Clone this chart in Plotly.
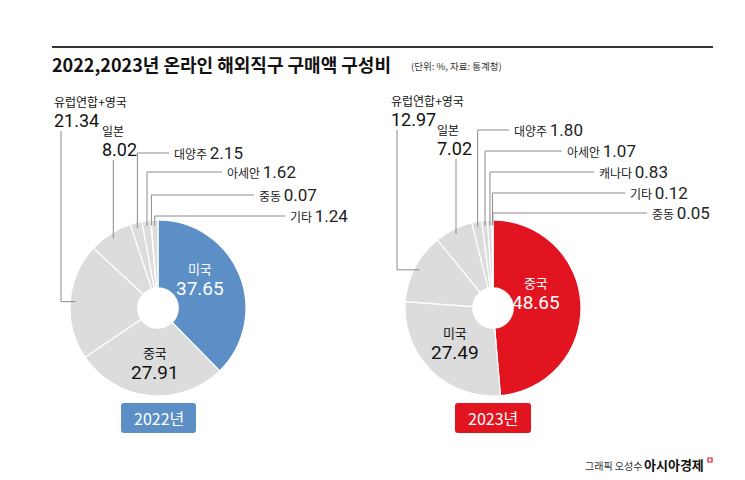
import math
import plotly.graph_objects as go

W, H = 745, 480

# ---------------- data ----------------
labels_2022 = ["미국", "중국", "유럽연합+영국", "일본", "대양주", "아세안", "중동", "기타"]
values_2022 = [37.65, 27.91, 21.34, 8.02, 2.15, 1.62, 0.07, 1.24]
labels_2023 = ["중국", "미국", "유럽연합+영국", "일본", "대양주", "아세안", "캐나다", "기타", "중동"]
values_2023 = [48.65, 27.49, 12.97, 7.02, 1.80, 1.07, 0.83, 0.12, 0.05]
year_labels = ["2022년", "2023년"]

# ---------------- styling / layout ----------------
BLUE = "#5b8fc6"
RED = "#e1141f"
GRAY = "#dcdcdc"
LINE = "#8a8a8a"
KFONT = "Noto Sans CJK KR"
NFONT = "Roboto"

pies = [
    dict(cx=150, cy=300, r=88, labels=labels_2022, values=values_2022, hl=BLUE,
         inside={"미국": (192, 271, "white"), "중국": (147, 355, "#111")},
         big={"유럽연합+영국": (44, 104, 53), "일본": (92, 133, None)},
         small={"대양주": (164, 145), "아세안": (217, 164), "중동": (249, 187), "기타": (280, 208)},
         badge=(113, 188), year=year_labels[0]),
    dict(cx=485, cy=300, r=88, labels=labels_2023, values=values_2023, hl=RED,
         inside={"중국": (528, 285, "white"), "미국": (447, 335, "#111")},
         big={"유럽연합+영국": (381, 103, 389), "일본": (427, 132, None)},
         small={"대양주": (504, 122), "아세안": (557, 143), "캐나다": (589, 164),
                "기타": (620, 185), "중동": (642, 205)},
         badge=(447, 523), year=year_labels[1]),
]


def px(x):
    return x / W


def py(y):
    return 1 - y / H


fig = go.Figure()
shapes = []
annotations = []


def line(pts):
    for (x0, y0), (x1, y1) in zip(pts[:-1], pts[1:]):
        shapes.append(dict(type="line", xref="paper", yref="paper",
                           x0=px(x0), y0=py(y0), x1=px(x1), y1=py(y1),
                           line=dict(color=LINE, width=1)))


def text(x, y, t, size, color="#222", anchor="left", align=None):
    annotations.append(dict(x=px(x), y=py(y), xref="paper", yref="paper", text=t,
                            showarrow=False, xanchor=anchor, yanchor="middle",
                            align=align or anchor,
                            font=dict(family=KFONT, size=size, color=color)))


def num(v, size):
    return f"<span style='font-family:{NFONT};font-size:{size}px'>{v:.2f}</span>"


def two_line(name, v, ns, vs):
    return f"<span style='font-size:{ns}px'>{name}</span><br>{num(v, vs)}"


for p in pies:
    cx, cy, r = p["cx"], p["cy"], p["r"]
    colors = [p["hl"]] + [GRAY] * (len(p["values"]) - 1)
    fig.add_trace(go.Pie(
        labels=p["labels"], values=p["values"], sort=False, direction="clockwise",
        rotation=0, hole=0.23, textinfo="none", hoverinfo="label+value",
        marker=dict(colors=colors, line=dict(color="white", width=1.2)),
        domain=dict(x=[px(cx - r), px(cx + r)], y=[py(cy + r), py(cy - r)]),
        showlegend=False))

    total = sum(p["values"])
    cum = 0
    anchors = {}
    for lab, v in zip(p["labels"], p["values"]):
        mid = (cum + v / 2) / total * 2 * math.pi
        cum += v
        anchors[lab] = (cx + 0.94 * r * math.sin(mid), cy - 0.94 * r * math.cos(mid))
    vals = dict(zip(p["labels"], p["values"]))

    for lab, (x, y, col) in p["inside"].items():
        text(x, y, two_line(lab, vals[lab], 13, 19), 16, col, "center")

    for lab, (x, y, vx) in p["big"].items():
        text(x, y, two_line(lab, vals[lab], 12, 18), 15, "#111", "left")
        ax, ay = anchors[lab]
        if vx is None:
            line([(ax, y + 19), (ax, ay)])
        else:
            line([(vx, y + 19), (vx, ay), (ax, ay)])

    for lab, (x, y) in p["small"].items():
        ax, ay = anchors[lab]
        line([(ax, ay), (ax, y), (x - 3, y)])
        text(x, y, f"{lab} {num(vals[lab], 17)}", 12, "#222")

    bx0, bx1 = p["badge"]
    shapes.append(dict(type="path", xref="paper", yref="paper",
                       path=(lambda x0, x1, y0, y1, rr: (
                           f"M {px(x0+rr)} {py(y0)} L {px(x1-rr)} {py(y0)} "
                           f"Q {px(x1)} {py(y0)} {px(x1)} {py(y0+rr)} L {px(x1)} {py(y1-rr)} "
                           f"Q {px(x1)} {py(y1)} {px(x1-rr)} {py(y1)} L {px(x0+rr)} {py(y1)} "
                           f"Q {px(x0)} {py(y1)} {px(x0)} {py(y1-rr)} L {px(x0)} {py(y0+rr)} "
                           f"Q {px(x0)} {py(y0)} {px(x0+rr)} {py(y0)} Z"))(bx0, bx1, 395, 425, 3),
                       fillcolor=p["hl"], line=dict(width=0)))
    text((bx0 + bx1) / 2, 410, p["year"], 16, "white", "center")

# title + rule
shapes.append(dict(type="line", xref="paper", yref="paper", x0=px(44), x1=px(705),
                   y0=py(39), y1=py(39), line=dict(color="#333", width=2)))
text(42, 56, "<b>2022,2023년 온라인 해외직구 구매액 구성비</b>", 18, "#111")
text(401, 58, "(단위: %, 자료: 통계청)", 9.5, "#333")

# credit
text(575, 457, "그래픽 오성수", 10, "#333")
text(634, 456, "<b>아시아경제</b>", 13, "#111")
shapes.append(dict(type="rect", xref="paper", yref="paper", x0=px(700), x1=px(704),
                   y0=py(454), y1=py(450), line=dict(color=RED, width=1.2)))

fig.update_layout(
    width=W, height=H, margin=dict(l=0, r=0, t=0, b=0),
    paper_bgcolor="white", plot_bgcolor="white",
    shapes=shapes, annotations=annotations,
)
fig.write_html("out.html")
